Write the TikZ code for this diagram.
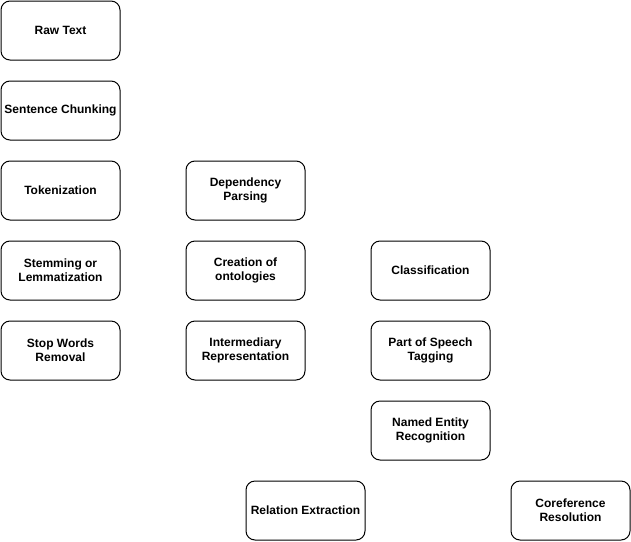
\documentclass[tikz,border=0pt]{standalone}
\usepackage{fontspec}
\setmainfont{Liberation Sans}
\begin{document}
\begin{tikzpicture}[x=1pt,y=-1pt,
  box/.style={draw=black, line width=1pt, rounded corners=9pt, fill=white,
    minimum width=119pt, minimum height=59pt, align=center, inner sep=1pt,
    font=\fontsize{12}{14}\selectfont\bfseries, anchor=center}]
\useasboundingbox (0,0) rectangle (631,541);
\node[box] (raw) at (60.5,30.5) {Raw Text};
\node[box] (sent) at (60.5,110.5) {Sentence Chunking};
\node[box] (tok) at (60.5,190.5) {Tokenization};
\node[box] (stem) at (60.5,270.5) {Stemming or\\Lemmatization};
\node[box] (stop) at (60.5,350.5) {Stop Words\\Removal};
\node[box] (dep) at (245.5,190.5) {Dependency\\Parsing};
\node[box] (onto) at (245.5,270.5) {Creation of\\ontologies};
\node[box] (inter) at (245.5,350.5) {Intermediary\\Representation};
\node[box] (cls) at (430.5,270.5) {Classification};
\node[box] (pos) at (430.5,350.5) {Part of Speech\\Tagging};
\node[box] (ner) at (430.5,430.5) {Named Entity\\Recognition};
\node[box] (rel) at (305.5,510.5) {Relation Extraction};
\node[box] (coref) at (570.5,510.5) {Coreference\\Resolution};
\end{tikzpicture}
\end{document}
